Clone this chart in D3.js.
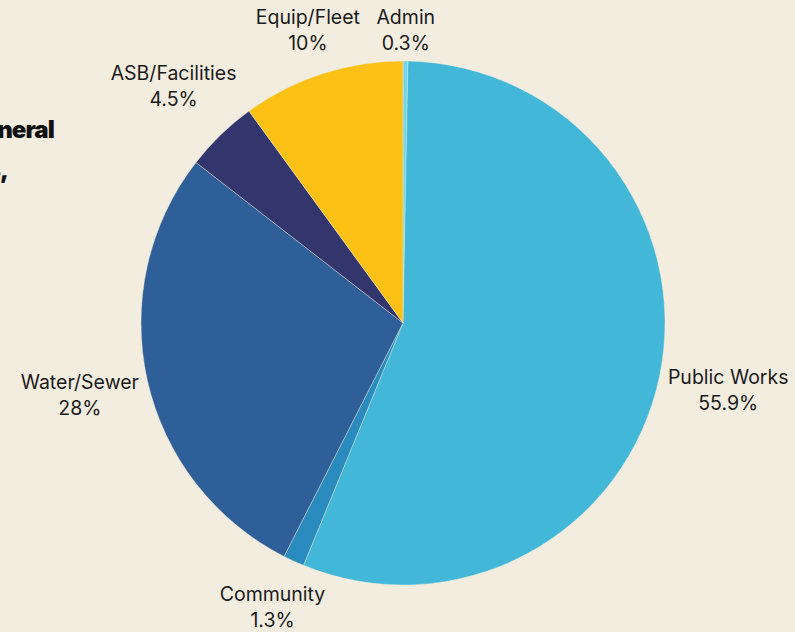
<!DOCTYPE html>
<html>
<head>
<meta charset="utf-8">
<script src="https://cdn.jsdelivr.net/npm/d3@7"></script>
<style>
  html, body { margin: 0; padding: 0; background: #f3ede0; overflow: hidden; }
  svg { display: block; }
</style>
</head>
<body>
<div id="container"></div>
<script>
/* DATA */
const categories = ["Admin", "Public Works", "Community", "Water/Sewer", "ASB/Facilities", "Equip/Fleet"];
const shares = [0.3, 55.9, 1.3, 28, 4.5, 10];
const colors = ["#6dd6ea", "#42b7d7", "#2a8cbe", "#2f5f98", "#33366d", "#fdc015"];
const titleLines = ["General", "Funds,"];

/* CONSTANTS */
const width = 795;
const height = 632;
const cx = 403, cy = 323;
const radius = 262;
const labelGap = 6;
const lineH = 26;

const data = categories.map((c, i) => ({ name: c, value: shares[i], color: colors[i] }));

const svg = d3.select("#container")
  .append("svg")
  .attr("width", width)
  .attr("height", height);

// title, cut off at the left edge as in the original
svg.append("g")
  .selectAll("text")
  .data(titleLines)
  .join("text")
  .attr("x", (d, i) => i === 0 ? 54 : 8)
  .attr("y", (d, i) => 138 + i * 40)
  .attr("text-anchor", "end")
  .attr("font-family", "Inter, sans-serif")
  .attr("font-weight", 900)
  .attr("font-size", 24)
  .attr("letter-spacing", -0.9)
  .attr("fill", "#111")
  .text(d => d);

const pie = d3.pie()
  .value(d => d.value)
  .sort(null);

const arc = d3.arc()
  .innerRadius(0)
  .outerRadius(radius);

const arcs = pie(data);

const g = svg.append("g")
  .attr("transform", `translate(${cx},${cy})`);

g.selectAll("path")
  .data(arcs)
  .join("path")
  .attr("d", arc)
  .attr("fill", d => d.data.color)
  .attr("stroke", "#f3ede0")
  .attr("stroke-width", 0.4);

// labels outside, pushed out by their own box size
const labels = g.selectAll(".label")
  .data(arcs)
  .join("text")
  .attr("class", "label")
  .attr("text-anchor", "middle")
  .attr("font-family", "Inter, sans-serif")
  .attr("font-size", 19.5)
  .attr("fill", "#1a1a1a");

labels.append("tspan")
  .attr("x", 0)
  .attr("dy", "0")
  .text(d => d.data.name);

labels.append("tspan")
  .attr("x", 0)
  .attr("dy", lineH)
  .text(d => d.data.value + "%");

labels.each(function(d) {
  const bb = this.getBBox();
  const a = (d.startAngle + d.endAngle) / 2;
  const dx = Math.sin(a), dy = -Math.cos(a);
  const k = Math.abs(dx) * bb.width / 2 + Math.abs(dy) * bb.height / 2;
  const r = radius + labelGap + k;
  const px = dx * r, py = dy * r;
  const offY = bb.y + bb.height / 2;
  d3.select(this).attr("transform", `translate(${px},${py - offY})`);
});
</script>
</body>
</html>
